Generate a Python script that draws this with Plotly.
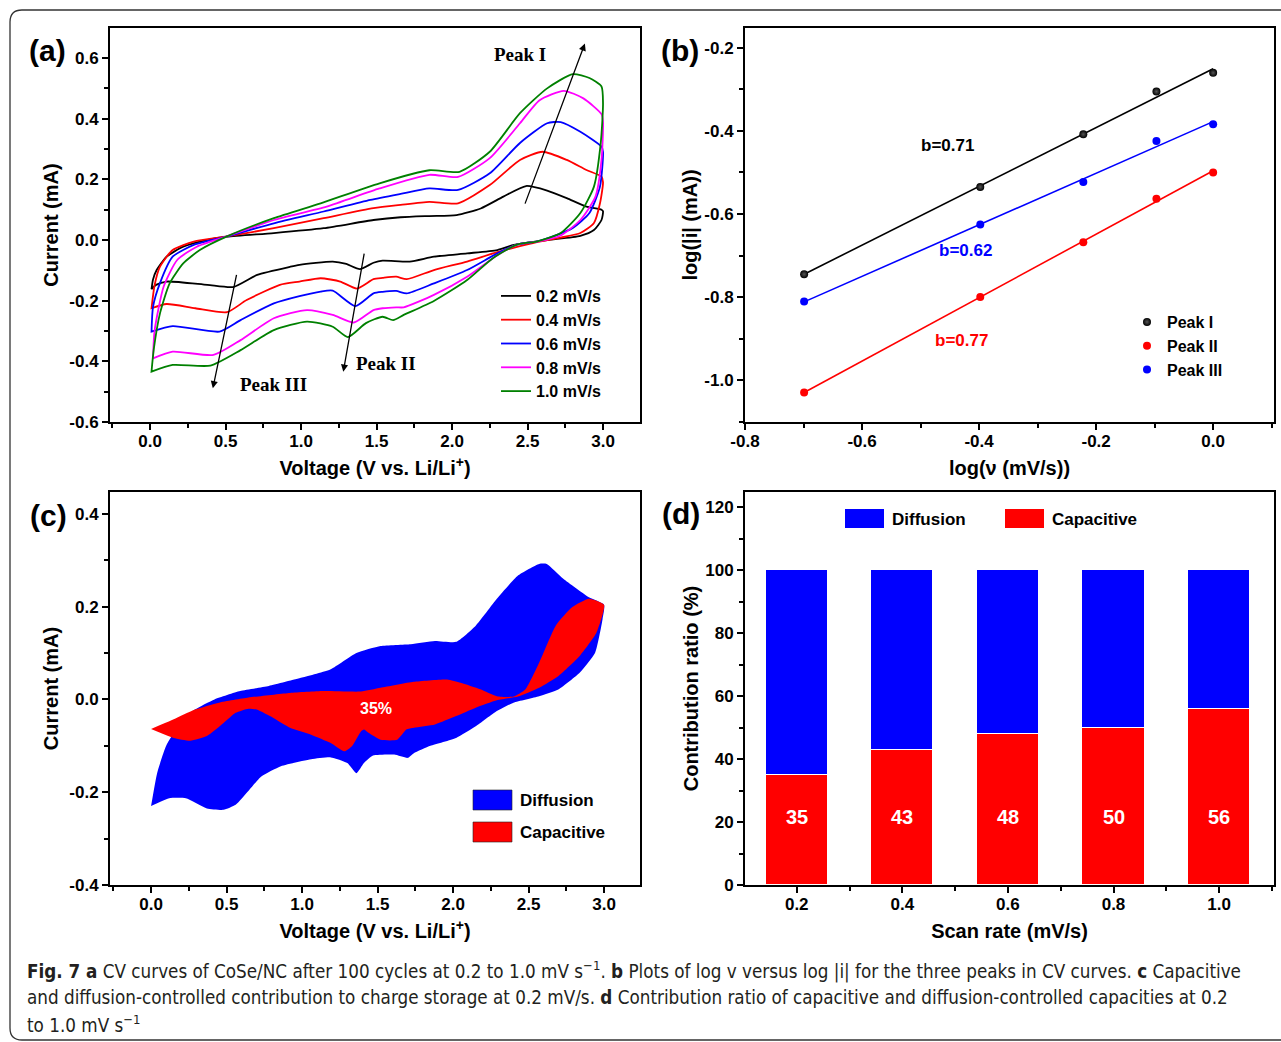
import numpy as np
import plotly.graph_objects as go

W, H = 1281, 1042

# ---------------- DATA ----------------
# Panel (a): CV curves (anodic branch 0->3 V, cathodic branch 3->0 V)
scan_labels = ["0.2 mV/s", "0.4 mV/s", "0.6 mV/s", "0.8 mV/s", "1.0 mV/s"]
cv_colors = ["#000000", "#FF0000", "#0000FF", "#FF00FF", "#008000"]

v02_up = [0.01, 0.02, 0.044, 0.11, 0.22, 0.375, 0.51, 0.82, 1.15, 1.48, 1.66, 1.85, 2.03, 2.19, 2.34, 2.49, 2.63, 2.76, 2.89, 2.99]
i02_up = [-0.162, -0.13, -0.099, -0.055, -0.022, 0.0, 0.011, 0.023, 0.039, 0.066, 0.075, 0.079, 0.082, 0.104, 0.143, 0.178, 0.163, 0.138, 0.11, 0.10]
v02_dn = [3.0, 2.99, 2.94, 2.85, 2.63, 2.41, 2.30, 2.10, 1.88, 1.72, 1.54, 1.48, 1.39, 1.30, 1.21, 0.99, 0.93, 0.71, 0.55, 0.38, 0.11, 0.04, 0.01]
i02_dn = [0.095, 0.066, 0.033, 0.014, 0.0, -0.016, -0.033, -0.044, -0.055, -0.071, -0.068, -0.075, -0.096, -0.079, -0.071, -0.082, -0.088, -0.115, -0.155, -0.148, -0.137, -0.148, -0.162]

v04_up = [0.01, 0.03, 0.066, 0.15, 0.29, 0.51, 0.82, 1.15, 1.48, 1.66, 1.85, 2.04, 2.25, 2.45, 2.60, 2.76, 2.89, 2.99]
i04_up = [-0.225, -0.15, -0.088, -0.033, -0.005, 0.012, 0.039, 0.072, 0.105, 0.116, 0.126, 0.121, 0.181, 0.264, 0.291, 0.264, 0.231, 0.209]
v04_dn = [3.0, 2.98, 2.94, 2.85, 2.72, 2.52, 2.30, 2.10, 1.88, 1.70, 1.63, 1.54, 1.48, 1.37, 1.26, 1.13, 0.99, 0.86, 0.64, 0.51, 0.30, 0.11, 0.01]
i04_dn = [0.19, 0.121, 0.056, 0.023, 0.008, -0.012, -0.04, -0.071, -0.099, -0.129, -0.121, -0.125, -0.129, -0.16, -0.137, -0.126, -0.137, -0.148, -0.198, -0.238, -0.225, -0.211, -0.225]

v06_up = [0.01, 0.02, 0.066, 0.15, 0.29, 0.51, 0.82, 1.15, 1.46, 1.66, 1.85, 2.04, 2.25, 2.45, 2.63, 2.72, 2.85, 2.99]
i06_up = [-0.302, -0.22, -0.142, -0.055, -0.016, 0.012, 0.055, 0.094, 0.132, 0.152, 0.17, 0.165, 0.22, 0.32, 0.385, 0.389, 0.357, 0.308]
v06_dn = [3.0, 2.98, 2.91, 2.80, 2.67, 2.56, 2.43, 2.30, 2.10, 1.88, 1.70, 1.63, 1.54, 1.48, 1.36, 1.21, 1.13, 0.99, 0.82, 0.60, 0.46, 0.15, 0.01]
i06_dn = [0.29, 0.176, 0.089, 0.04, 0.012, -0.005, -0.015, -0.044, -0.099, -0.143, -0.176, -0.168, -0.171, -0.176, -0.218, -0.167, -0.17, -0.185, -0.209, -0.264, -0.302, -0.284, -0.302]

v08_up = [0.02, 0.03, 0.09, 0.18, 0.31, 0.51, 0.82, 1.17, 1.52, 1.85, 2.04, 2.25, 2.45, 2.58, 2.74, 2.87, 2.99]
i08_up = [-0.39, -0.30, -0.154, -0.066, -0.022, 0.012, 0.066, 0.11, 0.17, 0.215, 0.208, 0.27, 0.385, 0.461, 0.492, 0.467, 0.415]
v08_dn = [3.0, 2.99, 2.95, 2.85, 2.72, 2.58, 2.43, 2.30, 2.10, 1.88, 1.68, 1.63, 1.54, 1.48, 1.35, 1.21, 1.04, 0.82, 0.60, 0.42, 0.15, 0.02]
i08_dn = [0.39, 0.264, 0.143, 0.066, 0.015, -0.004, -0.015, -0.05, -0.121, -0.181, -0.222, -0.222, -0.225, -0.231, -0.272, -0.247, -0.231, -0.258, -0.33, -0.379, -0.368, -0.39]

v10_up = [0.01, 0.025, 0.066, 0.13, 0.22, 0.33, 0.51, 0.82, 1.13, 1.52, 1.85, 2.05, 2.25, 2.45, 2.63, 2.80, 2.91, 2.99]
i10_up = [-0.434, -0.36, -0.242, -0.143, -0.077, -0.033, 0.012, 0.072, 0.121, 0.187, 0.23, 0.225, 0.291, 0.418, 0.50, 0.547, 0.534, 0.506]
v10_dn = [3.0, 2.985, 2.94, 2.85, 2.72, 2.56, 2.43, 2.27, 2.10, 1.88, 1.68, 1.61, 1.54, 1.43, 1.31, 1.21, 1.04, 0.82, 0.60, 0.40, 0.15, 0.01]
i10_dn = [0.45, 0.32, 0.176, 0.089, 0.023, -0.005, -0.015, -0.06, -0.132, -0.201, -0.247, -0.264, -0.253, -0.274, -0.32, -0.286, -0.269, -0.297, -0.363, -0.414, -0.412, -0.434]

cv_up_v = [v02_up, v04_up, v06_up, v08_up, v10_up]
cv_up_i = [i02_up, i04_up, i06_up, i08_up, i10_up]
cv_dn_v = [v02_dn, v04_dn, v06_dn, v08_dn, v10_dn]
cv_dn_i = [i02_dn, i04_dn, i06_dn, i08_dn, i10_dn]

# Panel (b): log(i) vs log(v)
scan_rates = [0.2, 0.4, 0.6, 0.8, 1.0]
peak_names = ["Peak I", "Peak II", "Peak III"]
peak_colors = ["#000000", "#FF0000", "#0000FF"]
log_i_peak1 = [-0.745, -0.535, -0.408, -0.305, -0.26]
log_i_peak2 = [-1.03, -0.80, -0.668, -0.563, -0.50]
log_i_peak3 = [-0.811, -0.625, -0.523, -0.424, -0.384]
b_labels = ["b=0.71", "b=0.77", "b=0.62"]

# Panel (c): capacitive vs diffusion at 0.2 mV/s
tot_up_v = [0.0, 0.04, 0.10, 0.18, 0.29, 0.42, 0.59, 0.78, 1.0, 1.19, 1.36, 1.52, 1.72, 1.88, 2.02, 2.15, 2.29, 2.43, 2.57, 2.62, 2.73, 2.90, 3.0]
tot_up_i = [-0.23, -0.159, -0.10, -0.058, -0.022, 0.0, 0.018, 0.029, 0.047, 0.065, 0.10, 0.115, 0.119, 0.126, 0.124, 0.159, 0.217, 0.267, 0.292, 0.292, 0.26, 0.22, 0.204]
tot_dn_v = [2.99, 2.94, 2.84, 2.70, 2.57, 2.40, 2.29, 2.15, 2.02, 1.85, 1.74, 1.70, 1.61, 1.47, 1.41, 1.36, 1.30, 1.19, 1.06, 0.86, 0.73, 0.65, 0.56, 0.48, 0.37, 0.23, 0.12, 0.04]
tot_dn_i = [0.173, 0.10, 0.058, 0.022, 0.007, -0.007, -0.025, -0.058, -0.083, -0.10, -0.116, -0.126, -0.119, -0.121, -0.137, -0.159, -0.137, -0.125, -0.129, -0.144, -0.166, -0.195, -0.227, -0.238, -0.235, -0.213, -0.213, -0.224]
cap_up_v = [0.0, 0.15, 0.29, 0.45, 0.645, 0.92, 1.14, 1.39, 1.52, 1.74, 1.96, 2.05, 2.18, 2.29, 2.40, 2.48, 2.57, 2.68, 2.79, 2.90, 3.0]
cap_up_i = [-0.064, -0.043, -0.022, -0.007, 0.004, 0.014, 0.018, 0.017, 0.025, 0.038, 0.043, 0.036, 0.022, 0.007, 0.006, 0.022, 0.079, 0.159, 0.199, 0.217, 0.204]
cap_dn_v = [2.95, 2.84, 2.70, 2.57, 2.43, 2.29, 2.15, 2.02, 1.88, 1.74, 1.69, 1.63, 1.52, 1.44, 1.41, 1.39, 1.33, 1.28, 1.19, 1.06, 0.92, 0.81, 0.70, 0.645, 0.56, 0.48, 0.37, 0.26, 0.15, 0.04]
cap_dn_i = [0.144, 0.094, 0.051, 0.025, 0.006, -0.002, -0.018, -0.036, -0.054, -0.061, -0.065, -0.087, -0.087, -0.072, -0.065, -0.069, -0.101, -0.112, -0.094, -0.076, -0.061, -0.040, -0.022, -0.020, -0.029, -0.051, -0.079, -0.089, -0.083, -0.069]
cap_percent_label = "35%"

# Panel (d): contribution ratio
capacitive_pct = [35, 43, 48, 50, 56]
diffusion_pct = [100 - c for c in capacitive_pct]
scan_tick_text = ["0.2", "0.4", "0.6", "0.8", "1.0"]

# tick labels
ya_vals = [-0.6, -0.4, -0.2, 0.0, 0.2, 0.4, 0.6]
ya_text = ["-0.6", "-0.4", "-0.2", "0.0", "0.2", "0.4", "0.6"]
xv_vals = [0.0, 0.5, 1.0, 1.5, 2.0, 2.5, 3.0]
xv_text = ["0.0", "0.5", "1.0", "1.5", "2.0", "2.5", "3.0"]
xb_vals = [-0.8, -0.6, -0.4, -0.2, 0.0]
xb_text = ["-0.8", "-0.6", "-0.4", "-0.2", "0.0"]
yb_vals = [-1.0, -0.8, -0.6, -0.4, -0.2]
yb_text = ["-1.0", "-0.8", "-0.6", "-0.4", "-0.2"]
yc_vals = [-0.4, -0.2, 0.0, 0.2, 0.4]
yc_text = ["-0.4", "-0.2", "0.0", "0.2", "0.4"]
yd_vals = [0, 20, 40, 60, 80, 100, 120]

caption_lines = [
    "<b>Fig. 7 a</b> CV curves of CoSe/NC after 100 cycles at 0.2 to 1.0 mV s<sup>−1</sup>. <b>b</b> Plots of log v versus log |i| for the three peaks in CV curves. <b>c</b> Capacitive",
    "and diffusion-controlled contribution to charge storage at 0.2 mV/s. <b>d</b> Contribution ratio of capacitive and diffusion-controlled capacities at 0.2",
    "to 1.0 mV s<sup>−1</sup>",
]

# ---------------- FIGURE ----------------
FONT = "Liberation Sans, Arial, sans-serif"
SERIF = "Liberation Serif, Times New Roman, serif"


def px_x(p):
    return p / W


def px_y(p):
    return 1 - p / H


fig = go.Figure()

# (a)
for k in range(5):
    fig.add_trace(go.Scatter(
        x=cv_up_v[k] + cv_dn_v[k] + [cv_up_v[k][0]],
        y=cv_up_i[k] + cv_dn_i[k] + [cv_up_i[k][0]],
        mode="lines", line=dict(color=cv_colors[k], width=1.8, shape="spline", smoothing=0.6),
        name=scan_labels[k], xaxis="x", yaxis="y", legend="legend"))

# (b)
log_v = list(np.log10(scan_rates))
peaks = [log_i_peak1, log_i_peak2, log_i_peak3]
for k in range(3):
    coef = np.polyfit(log_v, peaks[k], 1)
    xs = [min(log_v), max(log_v)]
    fig.add_trace(go.Scatter(x=xs, y=list(np.polyval(coef, xs)), mode="lines",
                             line=dict(color=peak_colors[k], width=1.6), showlegend=False,
                             xaxis="x2", yaxis="y2"))
for k in range(3):
    fig.add_trace(go.Scatter(x=log_v, y=peaks[k], mode="markers", name=peak_names[k],
                             marker=dict(color=peak_colors[k], size=8,
                                         gradient=dict(type="radial", color="#555555" if k == 0 else peak_colors[k])),
                             xaxis="x2", yaxis="y2", legend="legend2"))

# (c)
fig.add_trace(go.Scatter(x=tot_up_v + tot_dn_v, y=tot_up_i + tot_dn_i, fill="toself",
                         fillcolor="#0000FF", line=dict(width=0, color="#0000FF", shape="spline", smoothing=0.5),
                         mode="lines", showlegend=False, xaxis="x3", yaxis="y3"))
fig.add_trace(go.Scatter(x=cap_up_v + cap_dn_v, y=cap_up_i + cap_dn_i, fill="toself",
                         fillcolor="#FF0000", line=dict(width=0, color="#FF0000", shape="spline", smoothing=0.5),
                         mode="lines", showlegend=False, xaxis="x3", yaxis="y3"))

# (d)
fig.add_trace(go.Bar(x=scan_rates, y=capacitive_pct, width=0.118, marker=dict(color="#FF0000", line=dict(color="white", width=1)),
                     showlegend=False, xaxis="x4", yaxis="y4"))
fig.add_trace(go.Bar(x=scan_rates, y=diffusion_pct, width=0.118, marker=dict(color="#0000FF", line=dict(color="white", width=1)),
                     showlegend=False, xaxis="x4", yaxis="y4"))

tickfont = dict(family=FONT, size=17, color="black", weight="bold")
titlefont = dict(family=FONT, size=20, color="black", weight="bold")


def axis(domain, rng, anchor, **kw):
    d = dict(domain=domain, range=rng, anchor=anchor, showline=True, linecolor="black", linewidth=2,
             mirror=True, ticks="outside", ticklen=6, tickwidth=2, tickcolor="black",
             tickfont=tickfont, showgrid=False, zeroline=False, automargin=False,
             minor=dict(ticks="outside", ticklen=4, tickwidth=1.5, tickcolor="black"))
    d.update(kw)
    return d


dom_ax = [px_x(110), px_x(640)]
dom_bx = [px_x(745), px_x(1274)]
dom_top = [px_y(422), px_y(28)]
dom_bot = [px_y(885), px_y(492)]

fig.update_layout(
    width=W, height=H, margin=dict(l=0, r=0, t=0, b=0, autoexpand=False),
    paper_bgcolor="white", plot_bgcolor="white",
    barmode="stack", bargap=0,
    xaxis=axis(dom_ax, [-0.265, 3.245], "y", tickvals=xv_vals, ticktext=xv_text,
               minor_dtick=0.25, minor_tick0=0, ticklabelstandoff=-3,
               title=dict(text="Voltage (V vs. Li/Li<sup>+</sup>)", font=titlefont, standoff=11)),
    yaxis=axis(dom_top, [-0.6, 0.699], "x", tickvals=ya_vals, ticktext=ya_text,
               minor_dtick=0.1, minor_tick0=0,
               title=dict(text="Current (mA)", font=titlefont, standoff=5)),
    xaxis2=axis(dom_bx, [-0.8, 0.104], "y2", tickvals=xb_vals, ticktext=xb_text,
                minor_dtick=0.1, minor_tick0=0, ticklabelstandoff=-3,
                title=dict(text="log(ν (mV/s))", font=titlefont, standoff=11)),
    yaxis2=axis(dom_top, [-1.101, -0.152], "x2", tickvals=yb_vals, ticktext=yb_text,
                minor_dtick=0.1, minor_tick0=0,
                title=dict(text="log(|i| (mA))", font=titlefont, standoff=1)),
    xaxis3=axis(dom_ax, [-0.272, 3.238], "y3", tickvals=xv_vals, ticktext=xv_text,
                minor_dtick=0.25, minor_tick0=0, ticklabelstandoff=-3,
                title=dict(text="Voltage (V vs. Li/Li<sup>+</sup>)", font=titlefont, standoff=11)),
    yaxis3=axis(dom_bot, [-0.4, 0.447], "x3", tickvals=yc_vals, ticktext=yc_text,
                minor_dtick=0.1, minor_tick0=0,
                title=dict(text="Current (mA)", font=titlefont, standoff=5)),
    xaxis4=axis(dom_bx, [0.102, 1.104], "y4", tickvals=scan_rates, ticktext=scan_tick_text,
                minor_dtick=0.2, minor_tick0=0.1, ticklabelstandoff=-3,
                title=dict(text="Scan rate (mV/s)", font=titlefont, standoff=11)),
    yaxis4=axis(dom_bot, [0, 124.8], "x4", tickvals=yd_vals, minor_dtick=10, minor_tick0=0,
                title=dict(text="Contribution ratio (%)", font=titlefont, standoff=1)),
    legend=dict(x=px_x(496), y=px_y(279), xanchor="left", yanchor="top", traceorder="normal",
                font=dict(family=FONT, size=16, color="black", weight="bold"),
                bgcolor="rgba(0,0,0,0)", itemwidth=30, tracegroupgap=0),
    legend2=dict(x=px_x(1127), y=px_y(305), xanchor="left", yanchor="top", traceorder="normal",
                 font=dict(family=FONT, size=16, color="black", weight="bold"),
                 bgcolor="rgba(0,0,0,0)", itemwidth=30),
)

ann = []
# panel labels
for txt, x, y in [("(a)", 47, 50), ("(b)", 680, 50), ("(c)", 48, 515), ("(d)", 681, 513)]:
    ann.append(dict(text=txt, x=px_x(x), y=px_y(y), xref="paper", yref="paper", showarrow=False,
                    xanchor="center", yanchor="middle",
                    font=dict(family=FONT, size=30, color="black", weight="bold")))

# (a) arrows and peak labels
for (x0, y0, x1, y1) in [(2.48, 0.115, 2.88, 0.648), (1.42, -0.04, 1.28, -0.434), (0.575, -0.11, 0.416, -0.489)]:
    ann.append(dict(x=x1, y=y1, ax=x0, ay=y0, xref="x", yref="y", axref="x", ayref="y", text="",
                    showarrow=True, arrowhead=2, arrowsize=1.1, arrowwidth=1.3, arrowcolor="black"))
for txt, x, y in [("Peak I", 2.45, 0.61), ("Peak II", 1.56, -0.406), ("Peak III", 0.82, -0.478)]:
    ann.append(dict(text=txt, x=x, y=y, xref="x", yref="y", showarrow=False,
                    xanchor="center", yanchor="middle",
                    font=dict(family=SERIF, size=19, color="black", weight="bold")))

# (b) slope labels
for txt, x, y, c in [(b_labels[0], -0.454, -0.434, "#000000"), (b_labels[2], -0.423, -0.687, "#0000FF"),
                     (b_labels[1], -0.43, -0.904, "#FF0000")]:
    ann.append(dict(text=txt, x=x, y=y, xref="x2", yref="y2", showarrow=False,
                    xanchor="center", yanchor="middle",
                    font=dict(family=FONT, size=17, color=c, weight="bold")))

# (c) percent label
ann.append(dict(text=cap_percent_label, x=1.49, y=-0.02, xref="x3", yref="y3", showarrow=False,
                xanchor="center", yanchor="middle",
                font=dict(family=FONT, size=16, color="white", weight="bold")))

# (d) values inside bars
for xr, c in zip(scan_rates, capacitive_pct):
    ann.append(dict(text=str(c), x=xr, y=21.5, xref="x4", yref="y4", showarrow=False,
                    xanchor="center", yanchor="middle",
                    font=dict(family=FONT, size=20, color="white", weight="bold")))

# manual legends (c), (d)
shapes = []
legc = [("Diffusion", "#0000FF", 473, 790), ("Capacitive", "#FF0000", 473, 822)]
for txt, col, x, y in legc:
    shapes.append(dict(type="rect", xref="paper", yref="paper", x0=px_x(x), x1=px_x(x + 39),
                       y0=px_y(y), y1=px_y(y + 20), fillcolor=col, line=dict(color="#222", width=0.6)))
    ann.append(dict(text=txt, x=px_x(x + 45), y=px_y(y + 10), xref="paper", yref="paper",
                    xanchor="left", yanchor="middle",
                    showarrow=False, font=dict(family=FONT, size=17, color="black", weight="bold")))
legd = [("Diffusion", "#0000FF", 845, 509), ("Capacitive", "#FF0000", 1005, 509)]
for txt, col, x, y in legd:
    shapes.append(dict(type="rect", xref="paper", yref="paper", x0=px_x(x), x1=px_x(x + 39),
                       y0=px_y(y), y1=px_y(y + 19), fillcolor=col, line=dict(color=col, width=0)))
    ann.append(dict(text=txt, x=px_x(x + 45), y=px_y(y + 10), xref="paper", yref="paper",
                    xanchor="left", yanchor="middle",
                    showarrow=False, font=dict(family=FONT, size=17, color="black", weight="bold")))

# caption
for k, line in enumerate(caption_lines):
    ann.append(dict(text=line, x=px_x(25), y=px_y(970 + 27 * k), xref="paper", yref="paper",
                    xanchor="left", yanchor="middle", showarrow=False, align="left",
                    font=dict(family="DejaVu Sans Condensed, sans-serif", size=18.7, color="#231F20")))

# outer rounded frame
xl, yt, yb = px_x(10), px_y(10), px_y(1040)
rx, ry = 12 / W, 12 / H
frame = (f"M 1.0,{yt} L {xl + rx},{yt} Q {xl},{yt} {xl},{yt - ry} "
         f"L {xl},{yb + ry} Q {xl},{yb} {xl + rx},{yb} L 1.0,{yb}")
shapes.append(dict(type="path", path=frame, xref="paper", yref="paper", line=dict(color="#333333", width=1.3)))

fig.update_layout(annotations=ann, shapes=shapes)
fig.write_html("out.html")
